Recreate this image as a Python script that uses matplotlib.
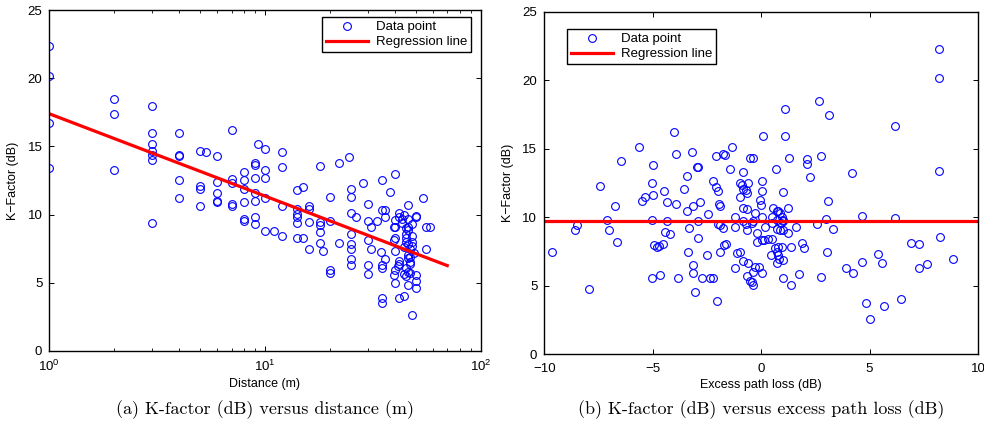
import numpy as np
import matplotlib
matplotlib.use("Agg")
import matplotlib.pyplot as plt

plt.rcParams['font.family'] = ['Liberation Sans', 'DejaVu Sans']

# ---- panel (a): K-factor vs distance ----
dist_m = [1, 1, 1, 1,
          2, 2, 2,
          3, 3, 3, 3, 3, 3, 3,
          4, 4, 4, 4, 4,
          5, 5, 5, 5, 5.3,
          6, 6, 6, 6, 6,
          7, 7, 7, 7, 7,
          8, 8, 8, 8, 8, 8,
          9, 9, 9, 9, 9, 9, 9, 9.3,
          10, 10, 10, 10, 10, 11,
          12, 12, 12, 12,
          14, 14, 14, 14, 14, 14,
          15, 15,
          16, 16, 16, 16,
          18, 18, 18, 18, 18, 18.6,
          20, 20, 20, 20,
          22, 22, 24.5,
          25, 25, 25, 25, 25, 25, 25, 25,
          26.4, 28.4,
          30, 30, 30, 30, 30,
          31, 31, 33, 34.5,
          35, 35, 35, 35, 35, 35,
          36, 36, 36, 38,
          40, 40, 40, 40, 40, 40, 40,
          39.5, 39.5, 39.5,
          42, 42, 42, 42, 42, 41.5,
          43, 43,
          44, 44, 44, 44,
          45, 45, 45, 45, 45, 45,
          46, 46, 46, 46, 46, 46, 46, 46, 46,
          47, 47, 47, 47, 47,
          48, 48, 48, 48, 48, 49,
          50, 50, 50, 50, 50,
          54, 56, 56, 58]
k_dist = [22.4, 20.2, 16.7, 13.4,
          18.5, 17.4, 13.3,
          18.0, 16.0, 15.2, 14.7, 14.4, 14.0, 9.4,
          16.0, 14.4, 14.3, 12.5, 11.2,
          14.7, 12.1, 11.9, 10.6, 14.6,
          14.3, 12.4, 11.6, 11.0, 10.9,
          16.2, 12.6, 12.3, 10.8, 10.6,
          13.1, 12.5, 11.9, 10.9, 9.7, 9.55,
          13.8, 13.65, 12.7, 11.6, 11.0, 9.8, 9.3, 15.2,
          14.8, 13.3, 12.7, 11.2, 8.8, 8.8,
          14.6, 13.5, 10.6, 8.4,
          11.8, 10.4, 10.05, 9.85, 9.4, 8.3,
          12.0, 8.25,
          10.6, 10.4, 9.45, 7.5,
          13.6, 9.45, 9.2, 8.75, 7.9, 7.3,
          11.3, 9.5, 5.9, 5.7,
          13.8, 7.9, 14.2,
          11.9, 11.3, 10.1, 8.6, 7.85, 7.5, 6.7, 6.3,
          9.85, 12.35,
          10.8, 9.55, 8.1, 6.3, 5.65,
          9.1, 7.45, 9.5, 7.25,
          12.55, 10.3, 6.3, 6.1, 3.85, 3.5,
          10.35, 9.85, 6.7, 11.65,
          13.0, 9.6, 9.1, 8.25, 5.9, 5.0, 7.3,
          9.05, 8.1, 5.55,
          9.85, 10.1, 6.4, 6.6, 3.9, 6.2,
          9.7, 9.4,
          10.0, 7.65, 5.65, 4.0,
          8.55, 8.25, 8.0, 6.05, 5.45, 9.0,
          10.7, 9.7, 9.1, 8.9, 7.85, 7.0, 6.8, 4.8, 5.8,
          6.9, 6.55, 6.4, 7.5, 5.7,
          8.45, 8.0, 2.6, 9.3, 7.7, 7.2,
          9.9, 9.8, 5.1, 4.6, 5.55,
          11.25, 9.1, 7.45, 9.1]
reg_a_d = [1, 70]
reg_a_k = [17.4, 6.25]

# ---- panel (b): K-factor vs excess path loss ----
epl_db = [-9.65, -8.58, -8.5, -7.92, -7.43, -7.12, -7.0, -6.74, -6.66, -6.47,
          -5.65, -5.5, -5.36, -5.05, -5.0, -4.97, -5.05, -5.05, -4.94, -4.79,
          -4.7, -4.54, -4.66, -4.5, -4.35, -4.35, -4.43, -4.2, -4.02, -3.93,
          -3.93, -3.82, -3.54, -3.43, -3.43, -3.33, -3.36, -3.19, -3.13, -3.13,
          -3.16, -3.05, -2.97, -2.9, -2.9, -2.93, -2.82, -2.74, -2.51, -2.44,
          -2.36, -2.2, -2.2, -2.08, -2.08, -2.02, -1.98, -1.98, -1.9, -1.77,
          -1.93, -1.9, -1.9, -1.77, -1.65, -1.71, -1.62, -1.44, -1.33, -1.21,
          -1.21, -1.21, -1.1, -0.98, -0.9, -0.98, -0.98, -0.85, -0.82, -0.82,
          -0.85, -0.85, -0.7, -0.67, -0.67, -0.6, -0.64, -0.7, -0.6, -0.64,
          -0.52, -0.39, -0.52, -0.44, -0.36, -0.36, -0.29, -0.09, 0.02, -0.29,
          -0.36, -0.44, -0.21, -0.18, 0.02, 0.13, 0.33, 0.48, 0.02, -0.06,
          -0.02, 0.02, 0.02, 0.1, 0.18, 0.48, 0.48, 0.56, 0.71, 0.79,
          0.87, 0.94, 0.71, 0.99, 0.9, 1.02, 0.74, 0.87, 0.99, 1.25,
          1.25, 1.6, 0.64, 0.79, 0.94, 0.71, 0.79, 0.99, 0.83, 0.71,
          0.44, 1.4, 1.87, 1.97, 1.02, 1.4, 1.76, 0.68, 1.02, 1.11,
          1.11, 1.3, 2.1, 2.1, 2.25, 2.74, 2.65, 3.14, 3.09, 2.59,
          2.99, 3.32, 3.05, 2.74, 3.91, 4.24, 4.63, 4.63, 4.17, 4.83,
          5.01, 5.66, 6.46, 5.4, 5.58, 6.17, 6.18, 6.93, 7.27, 7.29,
          7.67, 8.27, 8.85, 8.19, 8.19, 8.19]
k_epl = [7.45, 9.1, 9.45, 4.77, 12.3, 9.8, 9.1, 10.8, 8.2, 14.1,
         15.15, 11.2, 11.5, 12.5, 11.6, 13.85, 9.8, 5.55, 7.98, 7.8,
         7.9, 8.05, 5.8, 11.95, 11.15, 9.7, 8.95, 8.75, 16.2, 14.65,
         11.0, 5.55, 12.05, 13.05, 10.5, 9.25, 7.5, 14.75, 10.8, 6.5,
         5.95, 4.57, 13.7, 13.7, 9.7, 8.5, 11.1, 5.55, 7.25, 10.25,
         5.6, 5.6, 12.65, 14.5, 12.25, 3.9, 11.9, 9.55, 9.45, 9.25,
         11.0, 10.8, 7.5, 14.65, 14.55, 8.0, 8.05, 13.5, 15.15, 10.05,
         9.3, 6.3, 7.4, 12.5, 12.4, 11.5, 7.5, 13.3, 12.1, 6.8,
         10.65, 9.7, 12.0, 11.8, 10.6, 12.5, 9.07, 9.55, 6.64, 5.72,
         14.3, 14.3, 5.37, 5.3, 5.06, 6.03, 6.35, 6.35, 5.9, 10.3,
         9.7, 9.56, 8.83, 8.2, 8.35, 8.35, 8.45, 8.4, 10.05, 11.26,
         10.9, 11.9, 12.65, 15.93, 9.3, 9.56, 10.05, 10.65, 10.5, 10.5,
         10.35, 10.05, 9.8, 9.8, 9.6, 9.7, 9.12, 9.07, 9.07, 8.83,
         10.65, 9.3, 7.74, 7.86, 7.86, 7.5, 7.25, 6.9, 6.93, 6.64,
         7.25, 7.86, 8.1, 7.74, 5.6, 5.06, 5.86, 13.5, 11.85, 17.95,
         15.95, 14.3, 14.25, 13.9, 12.96, 14.5, 18.5, 17.45, 11.2, 9.55,
         9.85, 9.12, 7.45, 5.62, 6.28, 5.91, 6.76, 10.1, 13.23, 3.77,
         2.58, 3.53, 4.01, 7.3, 6.69, 9.93, 16.7, 8.1, 8.03, 6.32,
         6.57, 8.58, 6.93, 22.3, 20.2, 13.4]
reg_b_e = [-10, 10]
reg_b_k = [9.7, 9.7]

fig = plt.figure(figsize=(9.84, 4.25), dpi=100)
ax1 = fig.add_axes([0.0501, 0.1748, 0.4384, 0.8010])
ax2 = fig.add_axes([0.5531, 0.1664, 0.4408, 0.8054])

mk = dict(linestyle='none', marker='o', markersize=5.6, markerfacecolor='none',
          markeredgecolor='#0000ff', markeredgewidth=0.8)
leg = dict(fontsize=9.5, fancybox=False, edgecolor='black', framealpha=1,
           handlelength=3.2, borderpad=0.3, labelspacing=0.2,
           handletextpad=0.6, borderaxespad=0)

ax1.plot(dist_m, k_dist, label='Data point', **mk)
ax1.plot(reg_a_d, reg_a_k, color='#ff0000', linewidth=2.3, label='Regression line')
ax1.set_xscale('log')
ax1.set_xlim(1, 100)
ax1.set_ylim(0, 25)
ax1.set_yticks([0, 5, 10, 15, 20, 25])
ax1.set_xlabel('Distance (m)', fontsize=9, labelpad=3)
ax1.set_ylabel('K\u2212Factor (dB)', fontsize=9, labelpad=6)
ax1.legend(loc='upper right', bbox_to_anchor=(0.9775, 0.9794), **leg)

ax2.plot(epl_db, k_epl, label='Data point', **mk)
ax2.plot(reg_b_e, reg_b_k, color='#ff0000', linewidth=2.3, label='Regression line')
ax2.set_xlim(-10, 10)
ax2.set_ylim(0, 25)
ax2.set_xticks([-10, -5, 0, 5, 10])
ax2.set_yticks([0, 5, 10, 15, 20, 25])
ax2.set_xlabel('Excess path loss (dB)', fontsize=9, labelpad=3)
ax2.set_ylabel('K\u2212Factor (dB)', fontsize=9, labelpad=6)
ax2.legend(loc='upper left', bbox_to_anchor=(0.0517, 0.9495), **leg)

for ax in (ax1, ax2):
    ax.tick_params(which='both', direction='in', top=True, right=True,
                   labelsize=9.5)
    ax.tick_params(axis='x', which='both', pad=6)
    ax.tick_params(axis='y', which='both', pad=5)
    ax.tick_params(which='major', length=3.5, width=0.7)
    ax.tick_params(which='minor', length=2, width=0.6)
    for s in ax.spines.values():
        s.set_linewidth(1.0)

fig.text(0.2693, 0.035, '(a) K-factor (dB) versus distance (m)', ha='center',
         va='center', fontsize=13, family='cmr10')
fig.text(0.7735, 0.035, '(b) K-factor (dB) versus excess path loss (dB)', ha='center',
         va='center', fontsize=13, family='cmr10')

fig.savefig('out.png', dpi=100)
